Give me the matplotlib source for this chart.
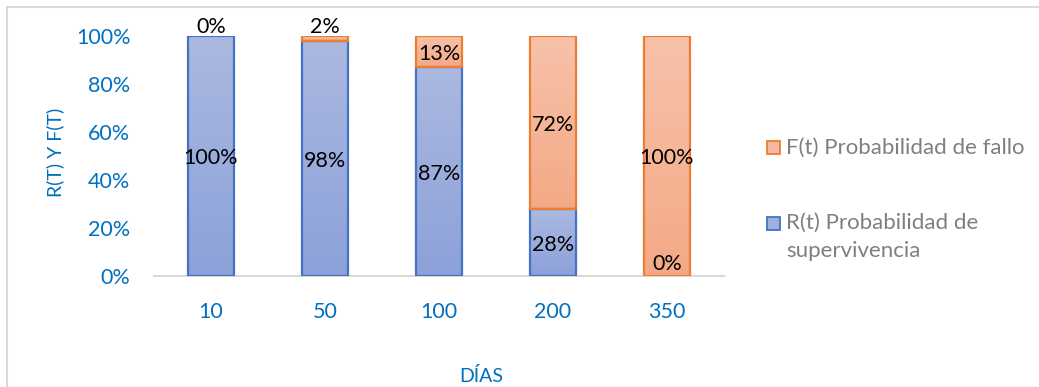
import numpy as np
import matplotlib.pyplot as plt
from matplotlib.patches import Rectangle
from matplotlib.colors import LinearSegmentedColormap

# days and probabilities (fractions)
dias = ['10', '50', '100', '200', '350']
r_t = [1.00, 0.98, 0.87, 0.28, 0.00]   # R(t) supervivencia
f_t = [0.00, 0.02, 0.13, 0.72, 1.00]   # F(t) fallo
yticks = [0, 0.2, 0.4, 0.6, 0.8, 1.0]

W, H = 1039, 387
BLUE_TXT = '#0070c0'
FS = 15.5
plt.rcParams['font.family'] = ['Lato', 'DejaVu Sans']

def px(x, y):
    # pixel position (from top-left) -> figure fraction
    return x / W, (H - y) / H

fig = plt.figure(figsize=(W / 100, H / 100), dpi=100)
ax = fig.add_axes([154 / W, (H - 276) / H, 570 / W, 240 / H])

# outer chart frame
fig.add_artist(Rectangle(px(7, 420), 1100 / W, 413 / H, transform=fig.transFigure,
                         fill=False, edgecolor='#d9d9d9', linewidth=1.5))

blue_map = LinearSegmentedColormap.from_list('b', ['#8ca1d9', '#abb9e0'])
orange_map = LinearSegmentedColormap.from_list('o', ['#f4a986', '#f7c2aa'])
grad = np.linspace(0, 1, 256).reshape(-1, 1)
width = 0.4

def grad_bar(x, bottom, height, cmap, edge):
    if height <= 0:
        return
    bar = ax.bar(x, height, width, bottom=bottom, facecolor='none',
                 edgecolor=edge, linewidth=1.6, zorder=3)[0]
    im = ax.imshow(grad, extent=(x - width / 2, x + width / 2, bottom, bottom + height),
                   origin='lower', cmap=cmap, aspect='auto', zorder=2)
    im.set_clip_path(bar)

xs = np.arange(len(dias))
for i in xs:
    grad_bar(i, 0, r_t[i], blue_map, '#4472c4')
    grad_bar(i, r_t[i], f_t[i], orange_map, '#ed7d31')

# data labels (thin segments get their label just outside the bar end)
for i in xs:
    for val, bottom in ((r_t[i], 0), (f_t[i], r_t[i])):
        lab = f'{val * 100:.0f}%'
        if val < 0.05 and bottom == 0:
            ax.text(i, 0.01, lab, ha='center', va='bottom', fontsize=FS, color='black', zorder=5)
        elif val < 0.05:
            ax.text(i, bottom + val - 0.005, lab, ha='center', va='bottom', fontsize=FS, color='black', zorder=5)
        else:
            ax.text(i, bottom + val / 2 - 0.01, lab, ha='center', va='center', fontsize=FS, color='black', zorder=5)

ax.set_xlim(-0.5, len(dias) - 0.5)
ax.set_ylim(0, 1)
ax.set_xticks(xs)
ax.set_xticklabels(dias)
ax.set_yticks(yticks)
ax.set_yticklabels([f'{v * 100:.0f}%' for v in yticks])
ax.tick_params(length=0, colors=BLUE_TXT, labelsize=FS)
ax.tick_params(axis='x', pad=19)
ax.tick_params(axis='y', pad=17)
for s in ['top', 'right', 'left']:
    ax.spines[s].set_visible(False)
ax.spines['bottom'].set_color('#d9d9d9')
ax.spines['bottom'].set_linewidth(1.5)
ax.spines['bottom'].set_zorder(1)

# axis titles
fig.text(*px(55, 152), 'R(T) Y F(T)', rotation=90, ha='center', va='center',
         fontsize=14, color=BLUE_TXT)
fig.text(*px(481, 376), 'DÍAS', ha='center', va='center', fontsize=14, color=BLUE_TXT)

# legend
fig.add_artist(Rectangle(px(767, 154), 13 / W, 13 / H, transform=fig.transFigure,
                         facecolor='#f6b9a0', edgecolor='#ed7d31', linewidth=1.3))
fig.text(*px(786, 148), 'F(t) Probabilidad de fallo', ha='left', va='center',
         fontsize=16, color='#7f7f7f')
fig.add_artist(Rectangle(px(767, 230), 13 / W, 13 / H, transform=fig.transFigure,
                         facecolor='#9eafdd', edgecolor='#4472c4', linewidth=1.3))
fig.text(*px(786, 223), 'R(t) Probabilidad de', ha='left', va='center',
         fontsize=16, color='#7f7f7f')
fig.text(*px(786, 251), 'supervivencia', ha='left', va='center',
         fontsize=16, color='#7f7f7f')

fig.savefig('out.png', dpi=100)
